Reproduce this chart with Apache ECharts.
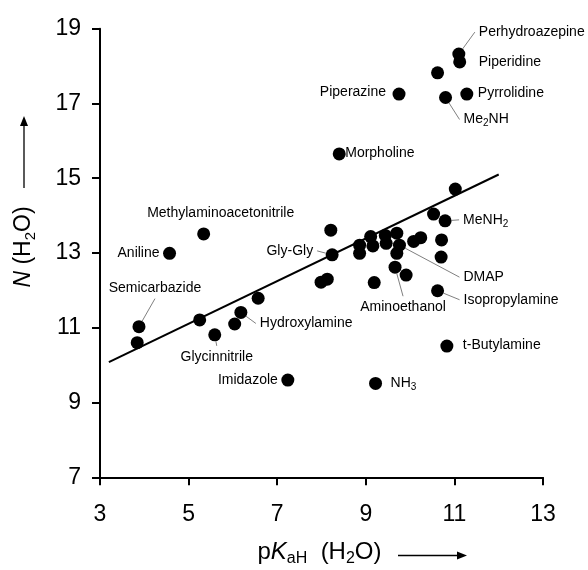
<!DOCTYPE html>
<html>
<head>
<meta charset="utf-8">
<script src="https://cdn.jsdelivr.net/npm/echarts@6/dist/echarts.min.js"></script>
<style>
html,body{margin:0;padding:0;background:#fff;}
#chart{width:588px;height:570px;}
</style>
</head>
<body>
<div id="chart"></div>
<script>
// ---- data ----
const pKaH = [11.10, 11.12, 10.62, 9.75, 10.80, 11.28, 8.40, 11.02, 10.53, 10.79,
  8.21, 8.24, 8.86, 8.86, 9.11, 9.16, 9.44, 9.46, 9.70, 9.76,
  9.70, 9.66, 9.91, 10.08, 10.24, 10.71, 10.70, 10.62, 9.19, 7.99,
  8.13, 5.34, 4.57, 3.88, 3.84, 5.25, 5.59, 6.04, 6.18, 6.57,
  7.24, 9.22, 10.83];
const Nvalues = [18.32, 18.11, 17.82, 17.25, 17.16, 17.25, 15.65, 14.71, 14.04, 13.86,
  13.61, 12.95, 13.21, 12.99, 13.44, 13.19, 13.47, 13.26, 13.53, 13.21,
  12.99, 12.62, 12.41, 13.31, 13.41, 13.35, 12.89, 11.99, 12.21, 12.22,
  12.30, 13.51, 12.99, 11.03, 10.60, 11.21, 10.81, 11.10, 11.41, 11.79,
  9.60, 9.51, 10.51];
const compoundNames = ['Perhydroazepine', 'Piperidine', '', 'Piperazine', 'Me2NH', 'Pyrrolidine', 'Morpholine', '', '', 'MeNH2',
  '', 'Gly-Gly', '', '', '', '', '', '', '', 'DMAP',
  '', 'Aminoethanol', '', '', '', '', '', 'Isopropylamine', '', '',
  '', 'Methylaminoacetonitrile', 'Aniline', 'Semicarbazide', '', '', 'Glycinnitrile', '', 'Hydroxylamine', '',
  'Imidazole', 'NH3', 't-Butylamine'];
const fitX = [3.2, 12.0];
const fitY = [10.08, 15.10];
const xTicks = [3, 5, 7, 9, 11, 13];
const yTicks = [7, 9, 11, 13, 15, 17, 19];

// ---- label placement (style, pixel offsets from the dot) ----
const labelPlacement = {
  'Perhydroazepine': {dx: 20, dy: -22, align: 'left', line: true},
  'Piperidine': {dx: 19, dy: 0, align: 'left'},
  'Pyrrolidine': {dx: 11, dy: -1, align: 'left'},
  'Me2NH': {dx: 18, dy: 22, align: 'left', line: true},
  'Piperazine': {dx: -13, dy: -2, align: 'right'},
  'Morpholine': {dx: 6, dy: -1, align: 'left'},
  'MeNH2': {dx: 18, dy: -1, align: 'left', line: true},
  'Gly-Gly': {dx: -19, dy: -4, align: 'right', line: true},
  'DMAP': {dx: 64, dy: 32, align: 'left', line: true},
  'Aminoethanol': {dx: 8, dy: 40, align: 'center', line: true},
  'Isopropylamine': {dx: 26, dy: 9, align: 'left', line: true},
  't-Butylamine': {dx: 16, dy: -1, align: 'left'},
  'NH3': {dx: 15, dy: 0, align: 'left'},
  'Imidazole': {dx: -10, dy: 0, align: 'right'},
  'Hydroxylamine': {dx: 19, dy: 11, align: 'left', line: true},
  'Glycinnitrile': {dx: 2, dy: 22, align: 'center', line: true},
  'Semicarbazide': {dx: 16, dy: -39, align: 'center', line: true},
  'Aniline': {dx: -10, dy: 0, align: 'right'},
  'Methylaminoacetonitrile': {dx: 17, dy: -21, align: 'center'}
};

const FONT = 'Arial, "Liberation Sans", Helvetica, sans-serif';
const PAD = 4;

const points = pKaH.map((x, i) => {
  const name = compoundNames[i];
  const pl = labelPlacement[name];
  return {
    value: [x, Nvalues[i]],
    name: name,
    label: {show: !!name},
    labelLine: {show: !!(pl && pl.line)}
  };
});

const chart = echarts.init(document.getElementById('chart'), null, {renderer: 'canvas'});
chart.setOption({
  backgroundColor: '#ffffff',
  animation: false,
  grid: {left: 100, right: 45, top: 28.7, bottom: 92.7, outerBoundsMode: 'none', containLabel: false},
  xAxis: {
    type: 'value', min: xTicks[0], max: xTicks[xTicks.length - 1], interval: 2,
    name: 'p{i|K}{sub|aH}  (H{sub|2}O)',
    nameLocation: 'middle', nameGap: 61,
    nameTextStyle: {
      fontFamily: FONT, fontSize: 24, color: '#000', lineHeight: 28,
      padding: [0, 4, 0, 0],
      rich: {
        i: {fontStyle: 'italic', fontFamily: FONT, fontSize: 24, lineHeight: 28},
        sub: {fontFamily: FONT, fontSize: 16, lineHeight: 14, verticalAlign: 'bottom'}
      }
    },
    axisLine: {show: true, onZero: false, lineStyle: {color: '#000', width: 2}},
    axisTick: {show: true, inside: false, length: 8, lineStyle: {color: '#000', width: 2}},
    axisLabel: {fontFamily: FONT, fontSize: 23, color: '#000', margin: 26},
    splitLine: {show: false}
  },
  yAxis: {
    type: 'value', min: yTicks[0], max: yTicks[yTicks.length - 1], interval: 2,
    name: '{i|N} (H{sub|2}O)',
    nameLocation: 'middle', nameRotate: 90, nameGap: 62,
    nameTextStyle: {
      fontFamily: FONT, fontSize: 23, color: '#000', lineHeight: 28,
      padding: [0, 0, 0, 12],
      rich: {
        i: {fontStyle: 'italic', fontFamily: FONT, fontSize: 23, lineHeight: 28},
        sub: {fontFamily: FONT, fontSize: 15, lineHeight: 14, verticalAlign: 'bottom'}
      }
    },
    axisLine: {show: true, onZero: false, lineStyle: {color: '#000', width: 2}},
    axisTick: {show: true, inside: false, length: 8, lineStyle: {color: '#000', width: 2}},
    axisLabel: {fontFamily: FONT, fontSize: 23, color: '#000', margin: 19},
    splitLine: {show: false}
  },
  graphic: [
    {type: 'line', shape: {x1: 398, y1: 555.5, x2: 460, y2: 555.5}, style: {stroke: '#000', lineWidth: 1.3}},
    {type: 'polygon', shape: {points: [[467, 555.5], [457, 551.5], [457, 559.5]]}, style: {fill: '#000'}},
    {type: 'line', shape: {x1: 24, y1: 188, x2: 24, y2: 124}, style: {stroke: '#000', lineWidth: 1.3}},
    {type: 'polygon', shape: {points: [[24, 116], [20, 126], [28, 126]]}, style: {fill: '#000'}}
  ],
  series: [
    {
      type: 'line',
      data: fitX.map((x, i) => [x, fitY[i]]),
      symbol: 'none',
      lineStyle: {color: '#000', width: 2},
      silent: true,
      z: 2
    },
    {
      type: 'scatter',
      data: points,
      symbol: 'circle',
      symbolSize: 13,
      itemStyle: {color: '#000', opacity: 1},
      z: 3,
      label: {
        show: false,
        position: 'right',
        fontFamily: FONT,
        fontSize: 14,
        color: '#000',
        lineHeight: 18,
        padding: [2, PAD, 2, PAD],
        formatter: p => p.name.replace(/([A-Za-z])(\d)/g, '$1{sub|$2}'),
        rich: {
          sub: {fontFamily: FONT, fontSize: 10, lineHeight: 10, verticalAlign: 'bottom', color: '#000'}
        }
      },
      labelLine: {show: false, lineStyle: {color: '#808080', width: 1}},
      labelLayout: function (params) {
        const name = compoundNames[params.dataIndex];
        const pl = labelPlacement[name];
        if (!pl) return {};
        const cx = params.rect.x + params.rect.width / 2;
        const cy = params.rect.y + params.rect.height / 2;
        let x = cx + pl.dx;
        if (pl.align === 'left') x -= PAD;
        if (pl.align === 'right') x += PAD;
        return {x: x, y: cy + pl.dy, align: pl.align, verticalAlign: 'middle'};
      }
    }
  ]
});
</script>
</body>
</html>
